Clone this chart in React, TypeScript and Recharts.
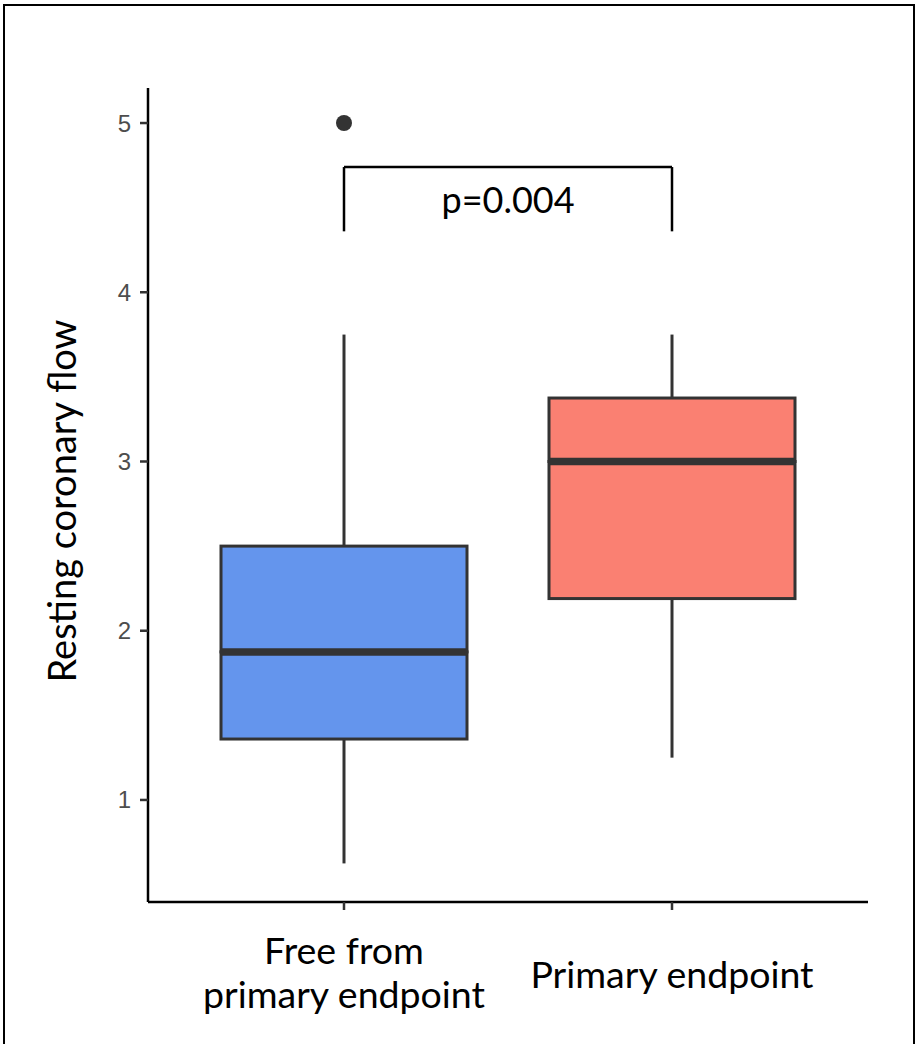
import { ComposedChart, Bar, Scatter, XAxis, YAxis, ReferenceLine } from 'recharts'

const CATEGORIES = ['Free from primary endpoint', 'Primary endpoint']
const TICK_LINES = [['Free from', 'primary endpoint'], ['Primary endpoint']]
const MIN = [0.625, 1.25]
const Q1 = [1.36, 2.19]
const MEDIAN = [1.875, 3.0]
const Q3 = [2.5, 3.375]
const MAX = [3.75, 3.75]
const OUTLIERS: (number | null)[] = [5, null]
const FILLS = ['#6495ED', '#FA8072']
const Y_TICKS = [1, 2, 3, 4, 5]
const BRACKET_LOW = 4.36
const BRACKET_HIGH = 4.74
const P_LABEL = 'p=0.004'

const data = CATEGORIES.map((group, i) => ({
  group,
  base: MIN[i],
  lowWhisker: Q1[i] - MIN[i],
  lowBox: MEDIAN[i] - Q1[i],
  highBox: Q3[i] - MEDIAN[i],
  highWhisker: MAX[i] - Q3[i],
  outlier: OUTLIERS[i],
}))

const INK = '#333333'
const FONT = 'Lato, "Open Sans", sans-serif'

function Whisker(props: any) {
  const { x, y, width, height } = props
  const cx = x + width / 2
  return <line x1={cx} x2={cx} y1={y} y2={y + height} stroke={INK} strokeWidth={3} />
}

function LowBox(props: any) {
  const { x, y, width, height, index } = props
  return <rect x={x} y={y} width={width} height={height} fill={FILLS[index]} stroke={INK} strokeWidth={3} />
}

function HighBox(props: any) {
  const { x, y, width, height, index } = props
  return (
    <g>
      <rect x={x} y={y} width={width} height={height} fill={FILLS[index]} stroke={INK} strokeWidth={3} />
      <line x1={x} x2={x + width} y1={y + height} y2={y + height} stroke={INK} strokeWidth={7.5} />
    </g>
  )
}

function Outlier(props: any) {
  const { cx, cy } = props
  if (cx == null || cy == null) return null
  return <circle cx={cx} cy={cy} r={8} fill={INK} />
}

function XTick(props: any) {
  const { x, y, index } = props
  const lines = TICK_LINES[index] ?? []
  const offsets = lines.length === 2 ? [60, 104] : [84]
  return (
    <text textAnchor="middle" fontFamily={FONT} fontSize={37.5} fill="#000">
      {lines.map((l, i) => (
        <tspan key={i} x={x} y={y - 8 + offsets[i]}>{l}</tspan>
      ))}
    </text>
  )
}

export default function App() {
  return (
    <div style={{ position: 'absolute', left: 0, top: 0, width: 919, height: 1044, overflow: 'hidden', background: '#fff' }}>
      <div
        style={{
          position: 'absolute', left: 3, top: 4, width: 912, height: 1100,
          border: '2.5px solid #000', boxSizing: 'border-box',
        }}
      />
      <div style={{ position: 'absolute', left: 0, top: 0 }}>
        <ComposedChart
          width={919}
          height={1044}
          data={data}
          margin={{ top: 88, right: 51, bottom: 12, left: 30 }}
        >
          <XAxis
            dataKey="group"
            type="category"
            padding={{ left: 32, right: 32 }}
            height={130}
            interval={0}
            tickSize={8}
            axisLine={{ stroke: '#000', strokeWidth: 2.5 }}
            tickLine={{ stroke: INK, strokeWidth: 2.5 }}
            tick={<XTick />}
          />
          <YAxis
            type="number"
            domain={[0.397, 5.207]}
            allowDataOverflow
            ticks={Y_TICKS}
            width={118}
            tickSize={8}
            tickMargin={9}
            axisLine={{ stroke: '#000', strokeWidth: 2.5 }}
            tickLine={{ stroke: INK, strokeWidth: 2.5 }}
            tick={{ fill: '#4D4D4D', fontSize: 24, fontFamily: '"Liberation Sans", Arial, sans-serif' }}
            label={{
              content: () => (
                <text
                  x={76}
                  y={501}
                  transform="rotate(-90 76 501)"
                  textAnchor="middle"
                  fontFamily={FONT}
                  fontSize={38}
                  fill="#000"
                >
                  Resting coronary flow
                </text>
              ),
            }}
          />
          <Bar dataKey="base" stackId="box" fill="transparent" barSize={246} isAnimationActive={false} />
          <Bar dataKey="lowWhisker" stackId="box" shape={<Whisker />} barSize={246} isAnimationActive={false} />
          <Bar dataKey="lowBox" stackId="box" shape={<LowBox />} barSize={246} isAnimationActive={false} />
          <Bar dataKey="highBox" stackId="box" shape={<HighBox />} barSize={246} isAnimationActive={false} />
          <Bar dataKey="highWhisker" stackId="box" shape={<Whisker />} barSize={246} isAnimationActive={false} />
          <Scatter dataKey="outlier" shape={<Outlier />} isAnimationActive={false} />
          <ReferenceLine
            segment={[{ x: CATEGORIES[0], y: BRACKET_LOW }, { x: CATEGORIES[0], y: BRACKET_HIGH }]}
            stroke="#000"
            strokeWidth={2.5}
          />
          <ReferenceLine
            segment={[{ x: CATEGORIES[1], y: BRACKET_LOW }, { x: CATEGORIES[1], y: BRACKET_HIGH }]}
            stroke="#000"
            strokeWidth={2.5}
          />
          <ReferenceLine
            segment={[{ x: CATEGORIES[0], y: BRACKET_HIGH }, { x: CATEGORIES[1], y: BRACKET_HIGH }]}
            stroke="#000"
            strokeWidth={2.5}
            label={{
              content: (p: any) => {
                const vb = p.viewBox || {}
                return (
                  <text
                    x={vb.x + (vb.width || 0) / 2}
                    y={vb.y + 46}
                    textAnchor="middle"
                    fontFamily={FONT}
                    fontSize={36}
                    fill="#000"
                  >
                    {P_LABEL}
                  </text>
                )
              },
            }}
          />
        </ComposedChart>
      </div>
    </div>
  )
}
